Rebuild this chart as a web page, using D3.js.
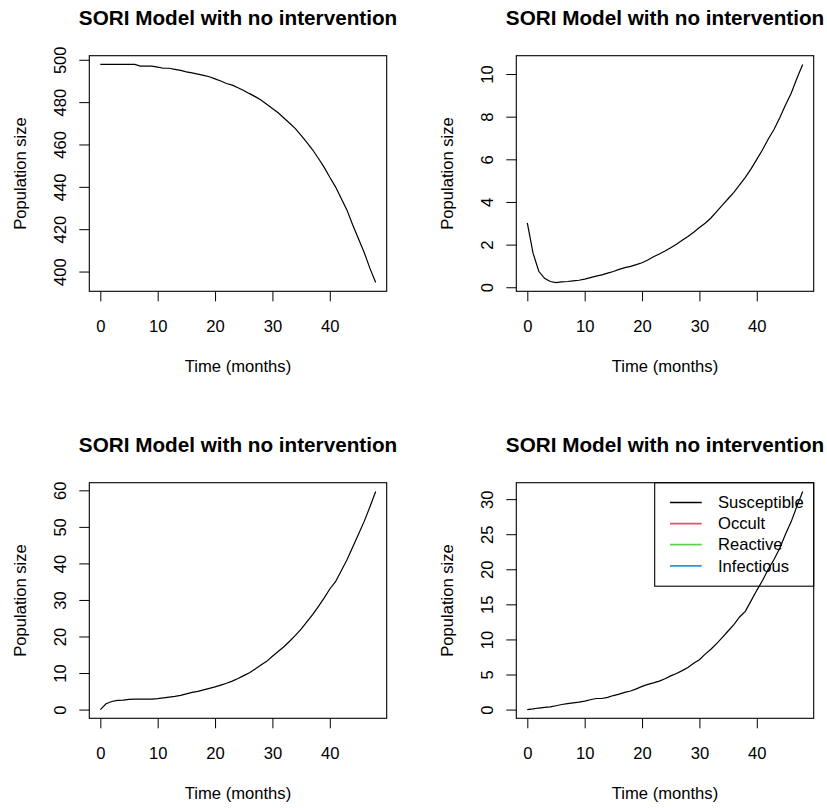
<!DOCTYPE html>
<html>
<head>
<meta charset="utf-8">
<script src="https://cdn.jsdelivr.net/npm/d3@7"></script>
<style>
  body { margin: 0; background: #fff; }
  text { font-family: "Liberation Sans", Arial, sans-serif; fill: #000; }
  .tick line { stroke: #000; }
</style>
</head>
<body>
<svg id="chart" width="827" height="808"></svg>
<script>
const months = [0, 1, 2, 3, 4, 5, 6, 7, 8, 9, 10, 11, 12, 13, 14, 15, 16, 17, 18, 19, 20,
  21, 22, 23, 24, 25, 26, 27, 28, 29, 30, 31, 32, 33, 34, 35, 36, 37, 38, 39, 40,
  41, 42, 43, 44, 45, 46, 47, 48];

const susceptible = [497.8, 497.8, 497.8, 497.8, 497.8, 497.8, 497.8, 497.0, 497.0, 497.0, 496.5,
  496.0, 496.0, 495.5, 495.0, 494.3, 493.8, 493.2, 492.6, 492.0, 491.0,
  490.0, 488.8, 488.0, 486.8, 485.5, 484.0, 482.6, 481.0, 479.0, 477.0,
  475.0, 472.5, 470.0, 467.5, 464.3, 461.0, 457.5, 453.5, 449.3, 444.5,
  440.0, 434.5, 429.0, 422.0, 415.5, 409.0, 401.5, 394.8];

const occult = [3.02, 1.6, 0.75, 0.42, 0.27, 0.22, 0.25, 0.27, 0.30, 0.33, 0.38,
  0.45, 0.52, 0.58, 0.66, 0.74, 0.84, 0.92, 0.98, 1.06, 1.15,
  1.28, 1.43, 1.56, 1.70, 1.85, 2.02, 2.20, 2.38, 2.58, 2.80,
  3.00, 3.25, 3.55, 3.85, 4.15, 4.45, 4.80, 5.15, 5.55, 6.00,
  6.45, 6.95, 7.40, 7.95, 8.55, 9.10, 9.80, 10.45];

const reactive = [0, 1.6, 2.2, 2.5, 2.6, 2.8, 2.85, 2.85, 2.85, 2.85, 3.0,
  3.2, 3.4, 3.6, 3.9, 4.3, 4.7, 5.0, 5.4, 5.8, 6.2,
  6.7, 7.2, 7.8, 8.5, 9.3, 10.1, 11.1, 12.2, 13.2, 14.6,
  15.9, 17.2, 18.7, 20.3, 22.0, 24.0, 26.0, 28.2, 30.5, 33.0,
  35.0, 38.0, 41.0, 44.5, 48.0, 51.5, 55.5, 59.7];

const infectious = [0, 0.1, 0.22, 0.3, 0.38, 0.55, 0.72, 0.85, 0.95, 1.05, 1.2,
  1.4, 1.58, 1.58, 1.75, 2.0, 2.2, 2.45, 2.65, 2.95, 3.3,
  3.6, 3.8, 4.05, 4.4, 4.8, 5.15, 5.55, 6.0, 6.6, 7.1,
  7.9, 8.6, 9.4, 10.3, 11.2, 12.1, 13.2, 14.0, 15.5, 17.0,
  18.4, 20.0, 21.4, 23.0, 25.0, 26.8, 29.0, 31.1];

const xTicks = [0, 10, 20, 30, 40];
const yTicksList = [
  [400, 420, 440, 460, 480, 500],
  [0, 2, 4, 6, 8, 10],
  [0, 10, 20, 30, 40, 50, 60],
  [0, 5, 10, 15, 20, 25, 30]
];

const legendLabels = ["Susceptible", "Occult", "Reactive", "Infectious"];
const legendColors = ["#000000", "#DF536B", "#61D04F", "#2297E6"];

const svg = d3.select("#chart");

const panelW = 297.4;
const panelH = 235.6;
const cellStep = 427;
const origin = { left: 89.3, top: 55.7 };

const seriesList = [susceptible, occult, reactive, infectious];

// R style axis range: data extent padded by 4% each side
function padded(values) {
  const [lo, hi] = d3.extent(values);
  const pad = (hi - lo) * 0.04;
  return [lo - pad, hi + pad];
}

seriesList.forEach((values, i) => {
  const col = i % 2;
  const row = Math.floor(i / 2);
  const g = svg.append("g")
    .attr("transform", `translate(${origin.left + col * cellStep},${origin.top + row * cellStep})`);

  const x = d3.scaleLinear().domain(padded(months)).range([0, panelW]);
  const y = d3.scaleLinear().domain(padded(values)).range([panelH, 0]);

  const xAxis = g.append("g")
    .attr("transform", `translate(0,${panelH})`)
    .call(d3.axisBottom(x).tickValues(xTicks).tickSize(10).tickSizeOuter(0));
  xAxis.select(".domain").remove();
  xAxis.selectAll("text")
    .attr("y", 40.7)
    .attr("dy", 0)
    .style("font-size", "16.6px");

  const yAxis = g.append("g")
    .call(d3.axisLeft(y).tickValues(yTicksList[i]).tickSize(10).tickSizeOuter(0));
  yAxis.select(".domain").remove();
  yAxis.selectAll("text")
    .attr("transform", "rotate(-90)")
    .attr("x", 0)
    .attr("y", -23.5)
    .attr("dy", 0)
    .attr("text-anchor", "middle")
    .style("font-size", "16.6px");

  g.append("path")
    .datum(months)
    .attr("fill", "none")
    .attr("stroke", "#000")
    .attr("stroke-width", 1.2)
    .attr("d", d3.line().x(d => x(d)).y((d, k) => y(values[k])));

  g.append("rect")
    .attr("width", panelW)
    .attr("height", panelH)
    .attr("fill", "none")
    .attr("stroke", "#000")
    .attr("stroke-width", 1.1);

  g.append("text")
    .attr("x", panelW / 2)
    .attr("y", -30.7)
    .attr("text-anchor", "middle")
    .style("font-size", "20.7px")
    .style("font-weight", "bold")
    .text("SORI Model with no intervention");

  g.append("text")
    .attr("x", panelW / 2)
    .attr("y", panelH + 80.4)
    .attr("text-anchor", "middle")
    .style("font-size", "16.6px")
    .text("Time (months)");

  g.append("text")
    .attr("transform", `translate(-63.3,${panelH / 2}) rotate(-90)`)
    .attr("text-anchor", "middle")
    .style("font-size", "16.6px")
    .text("Population size");

  if (i === 3) {
    const legend = g.append("g")
      .attr("transform", `translate(${panelW - 159},0)`);

    legend.append("rect")
      .attr("width", 159)
      .attr("height", 103.5)
      .attr("fill", "none")
      .attr("stroke", "#000")
      .attr("stroke-width", 1.1);

    legendLabels.forEach((label, k) => {
      const ly = 19.8 + k * 21.1;
      legend.append("line")
        .attr("x1", 15.3)
        .attr("x2", 47)
        .attr("y1", ly)
        .attr("y2", ly)
        .attr("stroke", legendColors[k])
        .attr("stroke-width", 1.7);
      legend.append("text")
        .attr("x", 63.3)
        .attr("y", ly)
        .attr("dy", "0.35em")
        .style("font-size", "16.6px")
        .text(label);
    });
  }
});
</script>
</body>
</html>
